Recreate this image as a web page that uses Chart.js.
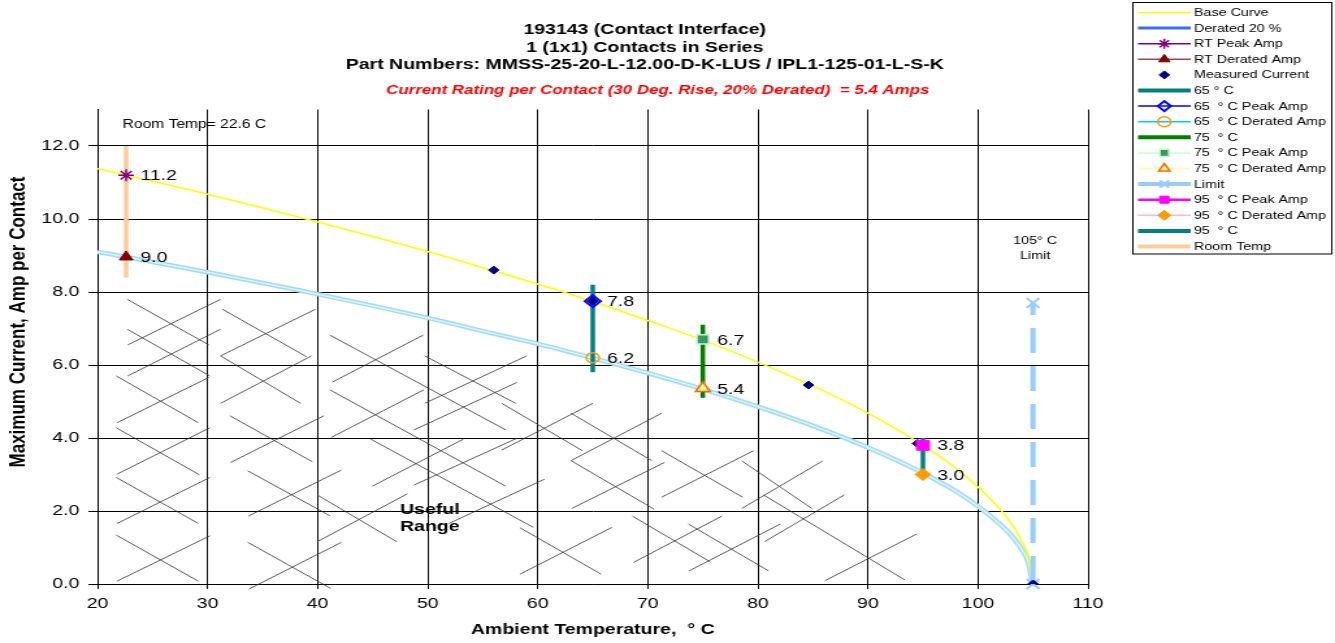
<!DOCTYPE html>
<html>
<head>
<meta charset="utf-8">
<script src="https://cdn.jsdelivr.net/npm/chart.js@4.4.0/dist/chart.umd.min.js"></script>
<style>
  html, body { margin: 0; padding: 0; background: #fff; }
  #chart { display: block; }
</style>
</head>
<body>
<!-- drawn narrow and stretched sideways, like the original picture -->
<canvas id="chart" width="1027" height="643" style="width:1335px;height:643px"></canvas>
<script>
// values (deg C / amps)
var curveTemps = [20, 22.6, 30, 40, 50, 56, 60, 65, 70, 75, 80, 84.6, 90, 95, 98, 100, 102, 103, 104, 104.6, 105];
var baseCurve  = [11.38, 11.2, 10.68, 9.92, 9.11, 8.58, 8.22, 7.74, 7.22, 6.68, 6.08, 5.48, 4.68, 3.8, 3.17, 2.66, 2.05, 1.67, 1.17, 0.73, 0];
var derated20  = [9.1, 8.96, 8.54, 7.94, 7.29, 6.86, 6.58, 6.19, 5.78, 5.34, 4.86, 4.38, 3.74, 3.04, 2.54, 2.13, 1.64, 1.34, 0.94, 0.58, 0];

var measuredTemps = [56, 65, 75, 84.6, 94.5, 105];
var measuredAmps  = [8.6, 7.75, 6.7, 5.45, 3.85, 0];

// room temp, 65, 75, 95 C
var testTemps   = [22.6, 65, 75, 95];
var peakAmps    = [11.2, 7.75, 6.7, 3.8];
var deratedAmps = [8.96, 6.2, 5.36, 3.0];
var barLow      = [8.4, 5.8, 5.1, 2.9];
var barHigh     = [12.0, 8.2, 7.1, 4.0];

var limitTemp = 105;
var limitTop = 7.7;

var xTicks = { min: 20, max: 110, step: 10 };
var yTicks = { min: 0, max: 13, step: 2, last: 12 };

// "useful range" hatching, each [t1, a1, t2, a2]
var hatchSegments = [
  [22.70, 7.80, 30.12, 6.55], [22.75, 6.55, 31.18, 7.80],
  [22.70, 6.98, 30.21, 5.70], [22.75, 5.70, 31.18, 6.98],
  [21.70, 5.70, 29.15, 4.42], [21.79, 4.42, 30.12, 5.66],
  [21.70, 4.28, 29.27, 2.99], [21.79, 3.01, 30.21, 4.28],
  [21.70, 2.92, 29.15, 1.66], [21.79, 1.66, 30.21, 2.92],
  [21.70, 1.34, 29.15, 0.08], [21.79, 0.08, 30.21, 1.32],
  [31.34, 7.53, 38.97, 6.23], [31.18, 6.25, 39.82, 7.53],
  [31.18, 6.25, 38.45, 4.95], [31.18, 4.95, 39.45, 6.25],
  [32.03, 4.61, 39.52, 3.35], [32.09, 3.33, 40.57, 4.61],
  [33.66, 3.10, 41.11, 1.87], [33.70, 1.86, 42.15, 3.12],
  [33.66, 1.14, 41.18, -0.12], [33.75, -0.14, 42.15, 1.14],
  [41.11, 6.82, 57.10, 4.22], [41.33, 5.53, 49.60, 6.82],
  [41.11, 5.32, 57.09, 2.68], [41.27, 4.02, 49.65, 5.32],
  [49.73, 6.25, 58.00, 4.95], [49.73, 4.95, 59.00, 6.25],
  [48.75, 4.22, 58.09, 5.52], [56.73, 4.95, 64.06, 3.65],
  [56.73, 3.67, 65.00, 4.95], [44.82, 3.97, 59.61, 1.55],
  [44.97, 2.68, 53.25, 3.97], [48.75, 2.71, 58.09, 3.99],
  [39.97, 2.44, 47.18, 1.16], [39.97, 1.16, 48.15, 2.47],
  [51.94, 1.66, 60.61, 2.87], [58.39, 1.54, 65.75, 0.27],
  [58.39, 0.27, 66.73, 1.55], [63.02, 4.68, 70.36, 3.38],
  [63.02, 3.38, 71.27, 4.68], [63.02, 3.38, 70.57, 2.05],
  [63.09, 2.07, 71.52, 3.33], [71.27, 3.65, 78.61, 2.38],
  [71.27, 2.38, 79.60, 3.65], [78.55, 3.37, 84.90, 2.07],
  [78.55, 2.07, 85.88, 3.37], [68.60, 1.86, 75.66, 0.61],
  [68.70, 0.59, 76.73, 1.86], [73.70, 1.64, 80.97, 0.36],
  [73.75, 0.36, 82.03, 1.64], [80.52, 2.44, 93.36, 0.11],
  [80.61, 1.16, 87.85, 2.44], [86.09, 0.09, 94.43, 1.37]
];

var titleLines = [
  '193143 (Contact Interface)',
  '1 (1x1) Contacts in Series',
  'Part Numbers: MMSS-25-20-L-12.00-D-K-LUS / IPL1-125-01-L-S-K'
];
var ratingText = 'Current Rating per Contact (30 Deg. Rise, 20% Derated)  = 5.4 Amps';

var FONT = "'Liberation Sans', Arial, sans-serif";
Chart.defaults.font.family = FONT;
Chart.defaults.color = '#000';

function pts(xs, ys) {
  return xs.map(function (x, i) { return { x: x, y: ys[i] }; });
}
function one(i, ys) {
  return [{ x: testTemps[i], y: ys[i] }];
}
function bar(i) {
  return [{ x: testTemps[i], y: barLow[i] }, { x: testTemps[i], y: barHigh[i] }];
}

var hatchData = [];
hatchSegments.forEach(function (s) {
  hatchData.push({ x: s[0], y: s[1] }, { x: s[2], y: s[3] }, { x: s[2], y: null });
});

function lineSet(label, data, color, width, order, legend) {
  return {
    label: label, data: data, showLine: true, borderColor: color, borderWidth: width,
    pointRadius: 0, order: order, legendLine: legend === undefined ? { color: color, width: width } : legend
  };
}
function pointSet(label, data, style, radius, border, fill, bw, line, order) {
  return {
    label: label, data: data, showLine: false, pointStyle: style, pointRadius: radius,
    pointBorderColor: border, pointBackgroundColor: fill, pointBorderWidth: bw,
    borderColor: border, backgroundColor: fill, order: order,
    legendLine: line ? { color: line, width: 1.5 } : null
  };
}

var datasets = [];
var base = lineSet('Base Curve', pts(curveTemps, baseCurve), '#ffff00', 1.5, 55);
base.cubicInterpolationMode = 'monotone';
datasets.push(base);

var der = lineSet('Derated 20 %', pts(curveTemps, derated20), '#a3dbf2', 4.5, 60, { color: '#3a6df5', width: 3 });
der.cubicInterpolationMode = 'monotone';
datasets.push(der);

var rtPeak = pointSet('RT Peak Amp', one(0, peakAmps), 'star', 6, '#800080', '#800080', 1.5, '#800080', 5);
rtPeak.showValue = true;
datasets.push(rtPeak);

var rtDer = pointSet('RT Derated Amp', one(0, deratedAmps), 'triangle', 6, '#800000', '#800000', 1, '#a04848', 5);
rtDer.showValue = true;
datasets.push(rtDer);

datasets.push(pointSet('Measured Current', pts(measuredTemps, measuredAmps), 'rectRot', 4, '#000080', '#000080', 1, null, 12));

datasets.push(lineSet('65 ° C', bar(1), '#008080', 3.5, 40, { color: '#008080', width: 4 }));

var p65 = pointSet('65  ° C Peak Amp', one(1, peakAmps), 'rectRot', 6, '#0000ff', 'rgba(0,0,0,0)', 2, '#0000ff', 4);
p65.showValue = true;
datasets.push(p65);

var d65 = pointSet('65  ° C Derated Amp', one(1, deratedAmps), 'circle', 5, '#ff9900', 'rgba(0,0,0,0)', 1.5, '#00ccff', 4);
d65.showValue = true;
datasets.push(d65);

datasets.push(lineSet('75  ° C', bar(2), '#008000', 3.5, 40, { color: '#008000', width: 4 }));

var p75 = pointSet('75  ° C Peak Amp', one(2, peakAmps), 'rect', 6.5, '#c8f5c8', '#339966', 1.5, '#ccffcc', 4);
p75.showValue = true;
datasets.push(p75);

var d75 = pointSet('75  ° C Derated Amp', one(2, deratedAmps), 'triangle', 6.5, '#ff6600', '#ffff99', 1.5, '#ffff99', 4);
d75.showValue = true;
datasets.push(d75);

datasets.push({
  label: 'Limit', data: [{ x: limitTemp, y: limitTop }, { x: limitTemp, y: 0 }], showLine: true,
  borderColor: '#99ccff', borderWidth: 4, borderDash: [25, 13], borderDashOffset: 13,
  pointStyle: 'crossRot', pointRadius: 7, pointBorderColor: '#99ccff', pointBorderWidth: 2,
  order: 30, clip: false, legendLine: { color: '#99ccff', width: 4 }
});

var p95 = pointSet('95  ° C Peak Amp', one(3, peakAmps), 'rect', 7, '#ff00ff', '#ff00ff', 1, '#ff00ff', 3);
p95.legendLine.width = 2.5;
p95.showValue = true;
datasets.push(p95);

var d95 = pointSet('95  ° C Derated Amp', one(3, deratedAmps), 'rectRot', 6, '#ff9900', '#ff9900', 1, '#ffb8d4', 3);
d95.showValue = true;
datasets.push(d95);

datasets.push(lineSet('95  ° C', bar(3), '#008080', 3.5, 40, { color: '#008080', width: 4 }));
datasets.push(lineSet('Room Temp', bar(0), '#ffcc99', 3.5, 38, { color: '#ffcc99', width: 4 }));

// not in the legend
var hl = lineSet('', pts(curveTemps, derated20), '#dcf5fd', 1.5, 59, null);
hl.cubicInterpolationMode = 'monotone';
hl.noLegend = true;
datasets.push(hl);

datasets.push({
  label: '', data: hatchData, showLine: true, spanGaps: false, borderColor: '#333',
  borderWidth: 0.8, pointRadius: 0, order: 100, clip: false, noLegend: true
});

var valueLabels = {
  id: 'valueLabels',
  afterDatasetsDraw: function (chart) {
    var ctx = chart.ctx;
    ctx.save();
    ctx.font = '15px ' + FONT;
    ctx.fillStyle = '#000';
    ctx.textBaseline = 'middle';
    chart.data.datasets.forEach(function (ds, i) {
      if (!ds.showValue) return;
      chart.getDatasetMeta(i).data.forEach(function (el, j) {
        ctx.fillText(ds.data[j].y.toFixed(1), el.x + 11, el.y + 1);
      });
    });
    ctx.restore();
  }
};

var notes = {
  id: 'notes',
  afterDraw: function (chart) {
    var ctx = chart.ctx, area = chart.chartArea;
    var xs = chart.scales.x, ys = chart.scales.y;
    var cx = (area.left + area.right) / 2;
    ctx.save();
    ctx.fillStyle = '#000';
    ctx.textAlign = 'center';
    ctx.textBaseline = 'middle';

    ctx.font = 'bold 15px ' + FONT;
    titleLines.forEach(function (t, i) { ctx.fillText(t, cx + 40, 30 + i * 17.5); });
    ctx.fillStyle = '#ff0000';
    ctx.font = 'italic bold 13px ' + FONT;
    ctx.fillText(ratingText, cx + 50, 90);

    ctx.fillStyle = '#000';
    ctx.save();
    ctx.translate(14, 322);
    ctx.rotate(-Math.PI / 2);
    ctx.font = 'bold 17px ' + FONT;
    ctx.fillText('Maximum Current, Amp per Contact', 0, 0);
    ctx.restore();

    ctx.font = '12px ' + FONT;
    ctx.fillText('Room Temp= 22.6 C', xs.getPixelForValue(28.8), ys.getPixelForValue(12.58));
    ctx.font = '11px ' + FONT;
    ctx.fillText('105° C', xs.getPixelForValue(105.2), ys.getPixelForValue(9.4));
    ctx.fillText('Limit', xs.getPixelForValue(105.2), ys.getPixelForValue(9.0));
    ctx.font = 'bold 15px ' + FONT;
    ctx.fillText('Useful', xs.getPixelForValue(50.2), ys.getPixelForValue(2.03));
    ctx.fillText('Range', xs.getPixelForValue(50.2), ys.getPixelForValue(1.56));

    // legend box
    var lx = 871.5, ly = 2.5, lw = 153, lh = 251.5;
    ctx.strokeStyle = '#000';
    ctx.lineWidth = 1;
    ctx.strokeRect(lx, ly, lw, lh);
    ctx.textAlign = 'left';
    ctx.font = '11px ' + FONT;
    var row = 0;
    chart.data.datasets.forEach(function (ds) {
      if (ds.noLegend) return;
      var y = 12.5 + row * 15.6;
      row++;
      if (ds.legendLine) {
        ctx.strokeStyle = ds.legendLine.color;
        ctx.lineWidth = ds.legendLine.width;
        ctx.setLineDash([]);
        ctx.beginPath();
        ctx.moveTo(875.5, y);
        ctx.lineTo(916, y);
        ctx.stroke();
      }
      if (ds.pointStyle && Chart.helpers && Chart.helpers.drawPoint) {
        ctx.strokeStyle = ds.pointBorderColor;
        ctx.fillStyle = ds.pointBackgroundColor || ds.pointBorderColor;
        ctx.lineWidth = ds.pointBorderWidth || 1;
        var r = Math.min(ds.pointRadius, 5);
        Chart.helpers.drawPoint(ctx, { pointStyle: ds.pointStyle, radius: r, borderWidth: ctx.lineWidth, rotation: 0 }, 895.7, y);
      }
      ctx.fillStyle = '#000';
      ctx.fillText(ds.label, 918.5, y + 0.5);
    });
    ctx.restore();
  }
};

new Chart(document.getElementById('chart'), {
  type: 'scatter',
  data: { datasets: datasets },
  options: {
    responsive: false,
    devicePixelRatio: 1,
    animation: false,
    layout: { padding: { top: 109.5, right: 190, bottom: 0, left: 0 } },
    plugins: { legend: { display: false }, tooltip: { enabled: false } },
    scales: {
      x: {
        type: 'linear', min: xTicks.min, max: xTicks.max,
        ticks: { stepSize: xTicks.step, font: { size: 15 }, padding: 6, color: '#000' },
        grid: { color: '#000', lineWidth: 1, tickLength: 5 },
        border: { color: '#000' },
        title: { display: true, text: 'Ambient Temperature,  ° C', font: { size: 15, weight: 'bold' }, padding: { top: 0, bottom: 4 } },
        afterFit: function (scale) { scale.height = 59; }
      },
      y: {
        type: 'linear', min: yTicks.min, max: yTicks.max,
        ticks: {
          stepSize: yTicks.step, font: { size: 15 }, padding: 7, color: '#000',
          callback: function (v) { return v.toFixed(1); }
        },
        afterBuildTicks: function (scale) {
          scale.ticks = scale.ticks.filter(function (t) { return t.value <= yTicks.last; });
        },
        grid: { color: '#000', lineWidth: 1, tickLength: 7 },
        border: { color: '#000' },
        afterFit: function (scale) { scale.width = 75; }
      }
    }
  },
  plugins: [valueLabels, notes]
});
</script>
</body>
</html>
